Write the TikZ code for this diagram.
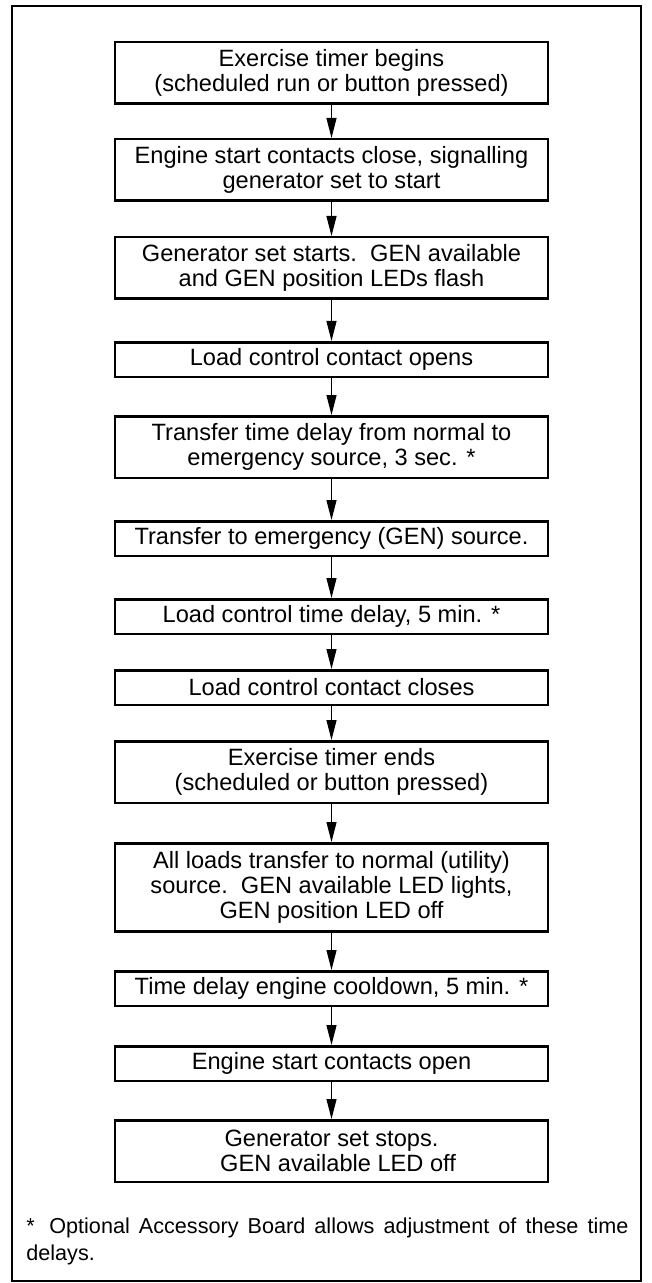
\documentclass[tikz,border=0pt]{standalone}
\usepackage{fontspec}
\setmainfont{Liberation Sans}
\usetikzlibrary{arrows.meta}

\begin{document}
\begin{tikzpicture}[x=0.5pt, y=-0.5pt,
  stepbox/.style={draw, line width=1.25pt, minimum width=216.5pt, inner sep=0pt, align=center, anchor=north, font=\fontsize{11.8}{12.6}\selectfont},
  flowarrow/.style={-{Triangle[length=10pt,width=5pt]}, line width=0.6pt}]
\pgfmathsetmacro{\midx}{331.5}
\pgfmathsetmacro{\oneh}{17.25}
\pgfmathsetmacro{\twoh}{30.75}
\pgfmathsetmacro{\threeh}{44}
\useasboundingbox (0,0) rectangle (652,1283);
\draw[line width=1.25pt] (12,6) rectangle (641,1281);

\node[stepbox, minimum height=\twoh pt] (timerbegins) at (\midx,41) {Exercise timer begins\\(scheduled run or button pressed)};
\node[stepbox, minimum height=\twoh pt] (contactsclose) at (\midx,138) {Engine start contacts close, signalling\\generator set to start};
\node[stepbox, minimum height=\twoh pt] (genstarts) at (\midx,236) {Generator set starts.\ \ GEN available\\and GEN position LEDs flash};
\node[stepbox, minimum height=\oneh pt] (loadopens) at (\midx,341) {Load control contact opens};
\node[stepbox, minimum height=\twoh pt] (transferdelay) at (\midx,415) {Transfer time delay from normal to\\emergency source, 3 sec. *};
\node[stepbox, minimum height=\oneh pt] (toemergency) at (\midx,520) {Transfer to emergency (GEN) source.};
\node[stepbox, minimum height=\oneh pt] (loaddelay) at (\midx,598) {Load control time delay, 5 min. *};
\node[stepbox, minimum height=\oneh pt] (loadcloses) at (\midx,669) {Load control contact closes};
\node[stepbox, minimum height=\twoh pt] (timerends) at (\midx,740) {Exercise timer ends\\(scheduled or button pressed)};
\node[stepbox, minimum height=\threeh pt] (tonormal) at (\midx,842) {All loads transfer to normal (utility)\\source.\ \ GEN available LED lights,\\GEN position LED off};
\node[stepbox, minimum height=\oneh pt] (cooldown) at (\midx,970) {Time delay engine cooldown, 5 min. *};
\node[stepbox, minimum height=\oneh pt] (contactsopen) at (\midx,1045) {Engine start contacts open};
\node[stepbox, minimum height=\twoh pt] (genstops) at (\midx,1119) {Generator set stops.\\\ \ GEN available LED off};

\foreach \a/\b in {timerbegins/contactsclose, contactsclose/genstarts, genstarts/loadopens, loadopens/transferdelay, transferdelay/toemergency, toemergency/loaddelay, loaddelay/loadcloses, loadcloses/timerends, timerends/tonormal, tonormal/cooldown, cooldown/contactsopen, contactsopen/genstops}
  \draw[flowarrow] (\a.south) -- (\b.north);

\node[anchor=north west, inner sep=0pt, text width=301pt, align=justify, font=\fontsize{10.8}{13.5}\selectfont] (note) at (26,1217) {\hangindent=11.5pt\hangafter=1\makebox[11.5pt][l]{*}Optional Accessory Board allows adjustment of these time\linebreak delays.};
\end{tikzpicture}
\end{document}
